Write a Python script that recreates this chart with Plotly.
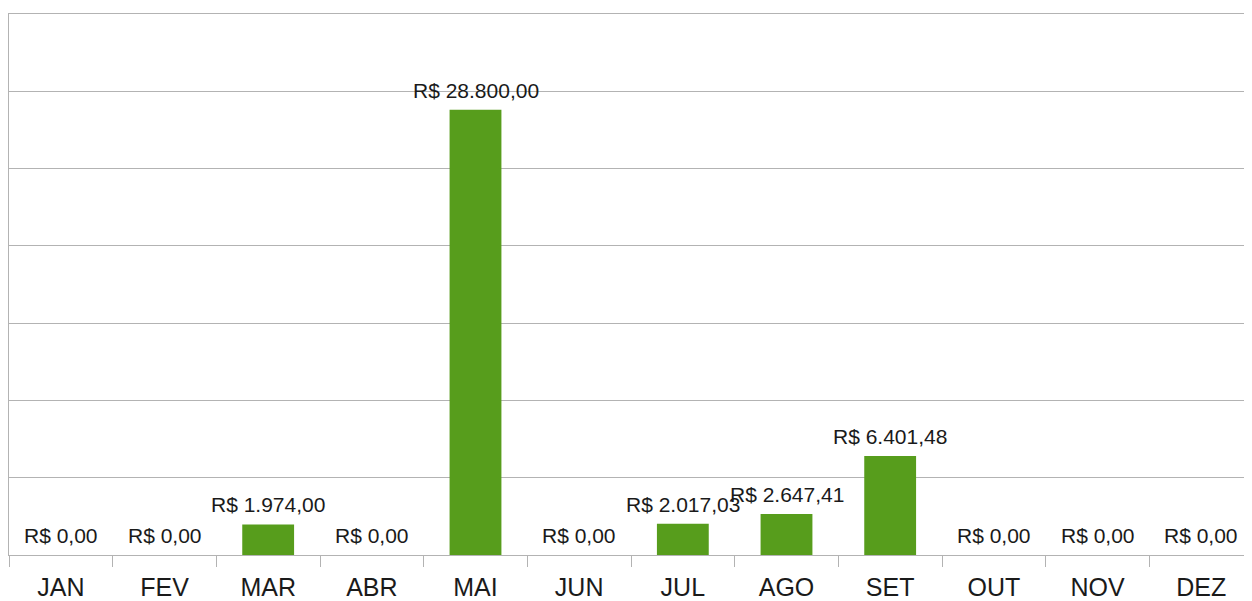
import plotly.graph_objects as go

meses = ["JAN", "FEV", "MAR", "ABR", "MAI", "JUN", "JUL", "AGO", "SET", "OUT", "NOV", "DEZ"]
valores = [0, 0, 1974.00, 0, 28800.00, 0, 2017.03, 2647.41, 6401.48, 0, 0, 0]


def brl(v):
    # formato brasileiro: R$ 1.234,56
    s = f"{v:,.2f}".replace(",", "X").replace(".", ",").replace("X", ".")
    return "R$ " + s


fig = go.Figure()
fig.add_trace(go.Bar(
    x=meses,
    y=valores,
    marker_color="#579d1c",
    marker_line_width=0,
    hoverinfo="skip",
))

for m, v in zip(meses, valores):
    fig.add_annotation(
        x=m, y=v, text=brl(v),
        showarrow=False, yanchor="bottom", yshift=6,
        font=dict(family="Liberation Sans", size=21, color="#1a1a1a"),
    )

fig.update_layout(
    width=1245, height=593,
    margin=dict(l=1, r=0, t=6, b=46),
    paper_bgcolor="white",
    plot_bgcolor="white",
    bargap=0.5,
    showlegend=False,
    font=dict(family="Liberation Sans", color="#1a1a1a"),
)
fig.update_xaxes(
    type="category",
    showline=True, mirror=True, linecolor="#b3b3b3", linewidth=1,
    tickson="boundaries", ticks="outside", ticklen=11, tickcolor="#b3b3b3",
    tickfont=dict(size=25, color="#1a1a1a"),
    ticklabelstandoff=10,
    showgrid=False,
)
fig.update_yaxes(
    range=[0, 35000], dtick=5000,
    showgrid=True, gridcolor="#b3b3b3", gridwidth=1,
    showline=True, linecolor="#b3b3b3", linewidth=1,
    showticklabels=False, ticks="",
    zeroline=False,
)

fig.write_html("out.html")
